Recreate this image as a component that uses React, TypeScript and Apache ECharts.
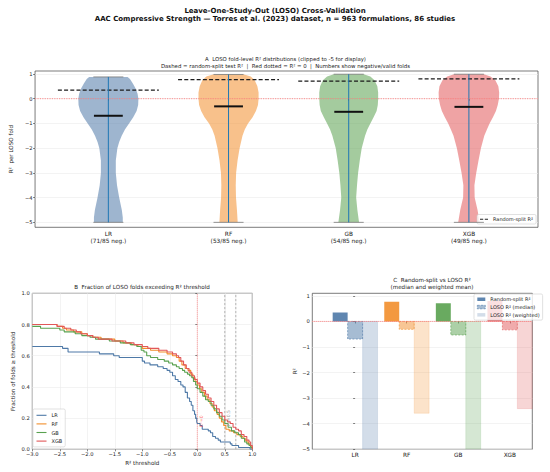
import React, { useEffect, useRef } from "react";
import * as echarts from "echarts";

// ---------------- data ----------------
const MODELS = ["LR", "RF", "GB", "XGB"];
const NEGATIVE_FOLDS = [71, 53, 54, 49];
const VALID_FOLDS = [85, 85, 85, 85];
const COLORS = ["#4e79a7", "#f28e2b", "#59a14f", "#e15759"];

const RANDOM_SPLIT_R2 = [0.35, 0.77, 0.71, 0.8];
const LOSO_MEDIAN_R2 = [-0.69, -0.31, -0.53, -0.33];
// LR and GB weighted means lie below -5 (clipped by the axis)
const LOSO_WEIGHTED_R2 = [-6.4, -3.59, -5.9, -3.41];
const FOLD_MAX = [0.88, 0.98, 0.99, 0.99];
const FOLD_MIN_CLIPPED = [-5, -5, -5, -5];

// violin outlines: [R², half-width of the density]
const VIOLIN_LR = [[0.88, 0.16], [0.8, 0.18], [0.6, 0.205], [0.4, 0.228], [0.2, 0.243], [0, 0.25], [-0.25, 0.248], [-0.5, 0.235], [-0.75, 0.207], [-1, 0.172], [-1.25, 0.138], [-1.5, 0.111], [-1.75, 0.09], [-2, 0.075], [-2.5, 0.062], [-3, 0.062], [-3.5, 0.072], [-4, 0.09], [-4.5, 0.112], [-4.8, 0.12], [-5, 0.12]];
const VIOLIN_RF = [[0.98, 0.13], [0.9, 0.185], [0.75, 0.218], [0.5, 0.24], [0.25, 0.25], [0, 0.25], [-0.25, 0.245], [-0.5, 0.228], [-0.75, 0.2], [-1, 0.162], [-1.25, 0.135], [-1.5, 0.116], [-2, 0.092], [-2.5, 0.075], [-3, 0.063], [-3.5, 0.06], [-4, 0.062], [-4.5, 0.07], [-5, 0.076]];
const VIOLIN_GB = [[0.99, 0.125], [0.9, 0.18], [0.75, 0.215], [0.5, 0.238], [0.25, 0.245], [0, 0.245], [-0.25, 0.242], [-0.5, 0.232], [-0.75, 0.207], [-1, 0.18], [-1.25, 0.155], [-1.5, 0.136], [-2, 0.108], [-2.5, 0.092], [-3, 0.078], [-3.5, 0.069], [-4, 0.062], [-4.5, 0.072], [-5, 0.086]];
const VIOLIN_XGB = [[0.99, 0.125], [0.9, 0.18], [0.75, 0.22], [0.5, 0.245], [0.25, 0.252], [0, 0.25], [-0.25, 0.24], [-0.5, 0.225], [-0.75, 0.2], [-1, 0.172], [-1.25, 0.15], [-1.5, 0.128], [-2, 0.1], [-2.5, 0.08], [-3, 0.061], [-3.5, 0.046], [-4, 0.048], [-4.5, 0.072], [-5, 0.089]];
const VIOLINS = [VIOLIN_LR, VIOLIN_RF, VIOLIN_GB, VIOLIN_XGB];

// fraction of folds with R² >= threshold: [threshold, fraction]
const SURV_LR = [[-3, 0.659], [-2.45, 0.647], [-2.35, 0.624], [-1.78, 0.612], [-1.52, 0.6], [-1.42, 0.588], [-1.0, 0.565], [-0.96, 0.553], [-0.86, 0.541], [-0.72, 0.529], [-0.62, 0.518], [-0.55, 0.506], [-0.5, 0.494], [-0.45, 0.471], [-0.4, 0.447], [-0.35, 0.435], [-0.3, 0.412], [-0.26, 0.4], [-0.22, 0.365], [-0.18, 0.329], [-0.14, 0.306], [-0.11, 0.282], [-0.08, 0.247], [-0.05, 0.224], [-0.03, 0.2], [-0.01, 0.176], [0.0, 0.165], [0.05, 0.153], [0.09, 0.129], [0.2, 0.118], [0.24, 0.106], [0.28, 0.082], [0.33, 0.071], [0.38, 0.059], [0.42, 0.047], [0.6, 0.035], [0.63, 0.024], [0.75, 0.012], [0.96, 0.0], [1.0, 0.0]];
const SURV_RF = [[-3, 0.8], [-2.55, 0.788], [-2.45, 0.776], [-2.38, 0.765], [-2.25, 0.753], [-2.1, 0.741], [-2.0, 0.729], [-1.9, 0.718], [-1.75, 0.706], [-1.5, 0.694], [-1.35, 0.682], [-1.2, 0.671], [-1.08, 0.659], [-1.0, 0.647], [-0.85, 0.635], [-0.7, 0.624], [-0.55, 0.612], [-0.45, 0.6], [-0.38, 0.588], [-0.33, 0.565], [-0.28, 0.541], [-0.22, 0.518], [-0.17, 0.506], [-0.12, 0.482], [-0.08, 0.459], [-0.04, 0.435], [0.0, 0.412], [0.04, 0.388], [0.08, 0.365], [0.13, 0.341], [0.18, 0.318], [0.23, 0.294], [0.27, 0.271], [0.31, 0.247], [0.36, 0.224], [0.4, 0.2], [0.44, 0.176], [0.48, 0.153], [0.52, 0.129], [0.58, 0.118], [0.66, 0.106], [0.72, 0.094], [0.78, 0.082], [0.83, 0.071], [0.87, 0.059], [0.9, 0.047], [0.93, 0.035], [0.96, 0.024], [0.98, 0.012], [1.0, 0.0]];
const SURV_GB = [[-3, 0.788], [-2.85, 0.776], [-2.5, 0.765], [-2.42, 0.753], [-2.22, 0.741], [-2.1, 0.729], [-1.95, 0.718], [-1.85, 0.706], [-1.6, 0.694], [-1.4, 0.682], [-1.22, 0.671], [-1.1, 0.659], [-1.02, 0.635], [-0.97, 0.624], [-0.92, 0.6], [-0.85, 0.588], [-0.72, 0.576], [-0.6, 0.565], [-0.52, 0.553], [-0.45, 0.541], [-0.38, 0.529], [-0.33, 0.518], [-0.27, 0.506], [-0.23, 0.494], [-0.18, 0.482], [-0.14, 0.471], [-0.1, 0.459], [-0.07, 0.435], [-0.03, 0.412], [0.0, 0.388], [0.05, 0.365], [0.1, 0.341], [0.15, 0.318], [0.2, 0.306], [0.25, 0.282], [0.3, 0.259], [0.35, 0.235], [0.4, 0.212], [0.45, 0.188], [0.5, 0.165], [0.56, 0.141], [0.62, 0.118], [0.68, 0.106], [0.75, 0.094], [0.8, 0.071], [0.86, 0.047], [0.9, 0.035], [0.94, 0.024], [0.97, 0.012], [1.0, 0.0]];
const SURV_XGB = [[-3, 0.8], [-2.55, 0.788], [-2.42, 0.776], [-2.3, 0.765], [-2.2, 0.753], [-2.12, 0.741], [-2.0, 0.729], [-1.9, 0.718], [-1.8, 0.706], [-1.55, 0.694], [-1.3, 0.682], [-1.15, 0.671], [-1.0, 0.659], [-0.9, 0.647], [-0.7, 0.635], [-0.55, 0.624], [-0.45, 0.612], [-0.38, 0.6], [-0.34, 0.588], [-0.3, 0.565], [-0.25, 0.541], [-0.2, 0.518], [-0.15, 0.494], [-0.1, 0.471], [-0.05, 0.447], [0.0, 0.424], [0.05, 0.4], [0.1, 0.376], [0.15, 0.353], [0.2, 0.329], [0.25, 0.306], [0.3, 0.282], [0.35, 0.259], [0.4, 0.235], [0.45, 0.212], [0.5, 0.188], [0.55, 0.176], [0.6, 0.165], [0.65, 0.141], [0.7, 0.129], [0.75, 0.118], [0.8, 0.094], [0.85, 0.082], [0.9, 0.059], [0.94, 0.047], [0.97, 0.024], [1.0, 0.0]];
const SURVIVAL = [SURV_LR, SURV_RF, SURV_GB, SURV_XGB];

const REF_THRESHOLDS = [0, 0.5, 0.7];
const REF_LABELS: [number, number, string][] = [[0.08, 0.18, "R²=0"], [0.56, 0.2, "R²=0.5"]];

// tick values
const A_X_TICKS = [1, 2, 3, 4];
const A_Y_TICKS = [-5, -4, -3, -2, -1, 0, 1];
const C_X_TICKS = [0, 1, 2, 3];
const C_Y_TICKS = [-5, -4, -3, -2, -1, 0, 1];

// ---------------- helpers ----------------
const FONT = "DejaVu Sans";
const MINUS = "\u2212";
const fmt = (v: number, d: number) => {
  const s = Math.abs(v).toFixed(d);
  return v < -1e-9 ? MINUS + s : s;
};
const rgba = (hex: string, a: number) => {
  const n = parseInt(hex.slice(1), 16);
  return `rgba(${n >> 16},${(n >> 8) & 255},${n & 255},${a})`;
};
const seg = (p: number[], q: number[], style: any) => ({
  type: "line",
  shape: { x1: p[0], y1: p[1], x2: q[0], y2: q[1] },
  style: { fill: null, ...style },
});

const TICK_FS = 5.2;
const axisTick = (custom?: number[]) => ({
  show: true,
  length: 2,
  lineStyle: { color: "#333", width: 0.6 },
  ...(custom ? { customValues: custom } : {}),
});
const splitLine = (show: boolean) => ({ show, lineStyle: { color: "#ebebeb", width: 0.6 } });
const nameStyle = { fontSize: 5.6, fontFamily: FONT, color: "#222" };
const LINE_ICON = "path://M0 0H10V1H0Z";

function buildOption(): any {
  const C_W = 0.29;
  const C_MIN = -5;

  const barSeries = (name: string, values: number[], offset: number, kind: number) => ({
    type: "custom",
    name,
    xAxisIndex: 2,
    yAxisIndex: 2,
    z: 3,
    clip: true,
    data: values.map((v, i) => [i, v]),
    renderItem: (params: any, api: any) => {
      const i = params.dataIndex;
      const x = api.value(0) + offset;
      const v = Math.max(api.value(1), C_MIN);
      const p = api.coord([x - C_W / 2, v]);
      const q = api.coord([x + C_W / 2, 0]);
      const c = COLORS[i];
      const style =
        kind === 0
          ? { fill: rgba(c, 0.9), stroke: null }
          : kind === 1
          ? { fill: rgba(c, 0.5), stroke: rgba(c, 0.85), lineWidth: 0.7, lineDash: [2, 1.4] }
          : { fill: rgba(c, 0.25), stroke: rgba(c, 0.3), lineWidth: 0.5 };
      return {
        type: "rect",
        shape: { x: p[0], y: Math.min(p[1], q[1]), width: q[0] - p[0], height: Math.abs(q[1] - p[1]) },
        style,
      };
    },
  });

  return {
    animation: false,
    backgroundColor: "#fff",
    textStyle: { fontFamily: FONT },
    title: [
      {
        text:
          "Leave-One-Study-Out (LOSO) Cross-Validation\nAAC Compressive Strength — Torres et al. (2023) dataset, n = 963 formulations, 86 studies",
        left: 275,
        top: 7,
        textAlign: "center",
        padding: 0,
        textStyle: { fontSize: 7, fontWeight: "bold", lineHeight: 8, fontFamily: FONT, color: "#111" },
      },
      {
        text:
          "A  LOSO fold-level R² distributions (clipped to -5 for display)\nDashed = random-split test R²  |  Red dotted = R² = 0  |  Numbers show negative/valid folds",
        left: 285.5,
        top: 55.5,
        textAlign: "center",
        padding: 0,
        textStyle: { fontSize: 5.4, fontWeight: "normal", lineHeight: 7, fontFamily: FONT, color: "#222" },
      },
      {
        text: "B  Fraction of LOSO folds exceeding R² threshold",
        left: 142,
        top: 283.2,
        textAlign: "center",
        padding: 0,
        textStyle: { fontSize: 5.6, fontWeight: "normal", lineHeight: 7, fontFamily: FONT, color: "#222" },
      },
      {
        text: "C  Random-split vs LOSO R²\n(median and weighted mean)",
        left: 432,
        top: 276.6,
        textAlign: "center",
        padding: 0,
        textStyle: { fontSize: 5.6, fontWeight: "normal", lineHeight: 6.7, fontFamily: FONT, color: "#222" },
      },
    ],
    grid: [
      { left: 33.3, top: 71, width: 504.7, height: 156.3, show: true, borderColor: "#444", borderWidth: 0.7, backgroundColor: "transparent" },
      { left: 32.3, top: 293.3, width: 220, height: 156, show: true, borderColor: "#444", borderWidth: 0.7, backgroundColor: "transparent" },
      { left: 312.3, top: 293.3, width: 220, height: 156, show: true, borderColor: "#444", borderWidth: 0.7, backgroundColor: "transparent" },
    ],
    xAxis: [
      {
        type: "value",
        gridIndex: 0,
        min: 0.39,
        max: 4.575,
        axisLine: { show: false },
        axisTick: axisTick(A_X_TICKS),
        splitLine: splitLine(false),
        axisLabel: {
          customValues: A_X_TICKS,
          fontSize: 5.8,
          lineHeight: 7,
          color: "#222",
          margin: 3,
          formatter: (v: number) => {
            const i = Math.round(v) - 1;
            return `${MODELS[i]}\n(${NEGATIVE_FOLDS[i]}/${VALID_FOLDS[i]} neg.)`;
          },
        },
      },
      {
        type: "value",
        gridIndex: 1,
        min: -3,
        max: 1,
        interval: 0.5,
        axisLine: { show: false },
        axisTick: axisTick(),
        splitLine: splitLine(true),
        axisLabel: { fontSize: TICK_FS, color: "#222", margin: 2.5, formatter: (v: number) => fmt(v, 1) },
        name: "R² threshold",
        nameLocation: "middle",
        nameGap: 11,
        nameTextStyle: nameStyle,
      },
      {
        type: "value",
        gridIndex: 2,
        min: -0.83,
        max: 3.435,
        axisLine: { show: false },
        axisTick: axisTick(C_X_TICKS),
        splitLine: splitLine(false),
        axisLabel: {
          customValues: C_X_TICKS,
          fontSize: 5.8,
          color: "#222",
          margin: 3,
          formatter: (v: number) => MODELS[Math.round(v)],
        },
      },
    ],
    yAxis: [
      {
        type: "value",
        gridIndex: 0,
        min: -5.2,
        max: 1.12,
        axisLine: { show: false },
        axisTick: axisTick(A_Y_TICKS),
        splitLine: splitLine(true),
        axisLabel: { customValues: A_Y_TICKS, fontSize: TICK_FS, color: "#222", margin: 2.5, formatter: (v: number) => fmt(v, 0) },
        name: "R²  per LOSO fold",
        nameLocation: "middle",
        nameGap: 16,
        nameRotate: 90,
        nameTextStyle: nameStyle,
      },
      {
        type: "value",
        gridIndex: 1,
        min: 0,
        max: 1,
        interval: 0.2,
        axisLine: { show: false },
        axisTick: axisTick(),
        splitLine: splitLine(true),
        axisLabel: { fontSize: TICK_FS, color: "#222", margin: 2.5, formatter: (v: number) => fmt(v, 1) },
        name: "Fraction of folds ≥ threshold",
        nameLocation: "middle",
        nameGap: 16,
        nameRotate: 90,
        nameTextStyle: nameStyle,
      },
      {
        type: "value",
        gridIndex: 2,
        min: -5,
        max: 1.1,
        axisLine: { show: false },
        axisTick: axisTick(C_Y_TICKS),
        splitLine: splitLine(true),
        axisLabel: { customValues: C_Y_TICKS, fontSize: TICK_FS, color: "#222", margin: 2.5, formatter: (v: number) => fmt(v, 0) },
        name: "R²",
        nameLocation: "middle",
        nameGap: 9,
        nameRotate: 90,
        nameTextStyle: nameStyle,
      },
    ],
    legend: [
      {
        left: 477,
        top: 214.5,
        orient: "vertical",
        padding: [2, 3, 2, 3],
        itemWidth: 8,
        itemHeight: 1,
        symbolKeepAspect: false,
        selectedMode: false,
        borderColor: "#ccc",
        borderWidth: 0.6,
        borderRadius: 1.5,
        backgroundColor: "rgba(255,255,255,0.8)",
        textStyle: { fontSize: 5, lineHeight: 5.5, color: "#222", fontFamily: FONT },
        data: [{ name: "Random-split R²", icon: "path://M0 0H4V1H0Z M6 0H10V1H6Z", itemStyle: { color: "#222" } }],
      },
      {
        left: 33,
        top: 409,
        orient: "vertical",
        padding: [3.5, 3, 3, 3.5],
        itemWidth: 10,
        itemHeight: 1.1,
        itemGap: 3,
        symbolKeepAspect: false,
        selectedMode: false,
        borderColor: "#ccc",
        borderWidth: 0.6,
        borderRadius: 1.5,
        backgroundColor: "rgba(255,255,255,0.8)",
        textStyle: { fontSize: 5, lineHeight: 5.6, color: "#222", fontFamily: FONT },
        data: MODELS.map((m, i) => ({ name: m, icon: LINE_ICON, itemStyle: { color: COLORS[i], borderWidth: 0 } })),
      },
      {
        left: 474,
        top: 294,
        orient: "vertical",
        padding: [2.5, 3, 2.5, 3],
        itemWidth: 8,
        itemHeight: 3.5,
        itemGap: 2.3,
        selectedMode: false,
        borderColor: "#ccc",
        borderWidth: 0.6,
        borderRadius: 1.5,
        backgroundColor: "rgba(255,255,255,0.8)",
        textStyle: { fontSize: 5, lineHeight: 5.5, color: "#222", fontFamily: FONT },
        data: [
          { name: "Random-split R²", icon: "rect", itemStyle: { color: rgba(COLORS[0], 0.9), borderWidth: 0 } },
          { name: "LOSO R² (median)", icon: "rect", itemStyle: { color: rgba(COLORS[0], 0.5), borderColor: COLORS[0], borderWidth: 0.6, borderType: "dashed" } },
          { name: "LOSO R² (weighted)", icon: "rect", itemStyle: { color: rgba(COLORS[0], 0.25), borderWidth: 0 } },
        ],
      },
    ],
    series: [
      // ---- panel A: violin bodies
      {
        type: "custom",
        name: "violins",
        xAxisIndex: 0,
        yAxisIndex: 0,
        z: 2,
        data: MODELS.map((_, i) => [i + 1, FOLD_MAX[i]]),
        renderItem: (params: any, api: any) => {
          const i = params.dataIndex;
          const x = api.value(0);
          const prof = VIOLINS[i];
          const pts: number[][] = [];
          prof.forEach(([y, w]) => pts.push(api.coord([x + w, y])));
          for (let k = prof.length - 1; k >= 0; k--) pts.push(api.coord([x - prof[k][1], prof[k][0]]));
          return { type: "polygon", shape: { points: pts }, style: { fill: rgba(COLORS[i], 0.55), stroke: null } };
        },
      },
      // ---- panel A: random-split dashed lines
      {
        type: "custom",
        name: "Random-split R²",
        xAxisIndex: 0,
        yAxisIndex: 0,
        z: 3,
        color: "#222",
        data: MODELS.map((_, i) => [i + 1, RANDOM_SPLIT_R2[i]]),
        renderItem: (params: any, api: any) => {
          const x = api.value(0);
          const y = api.value(1);
          return seg(api.coord([x - 0.42, y]), api.coord([x + 0.42, y]), {
            stroke: "#1a1a1a",
            lineWidth: 1.2,
            lineDash: [4, 2.2],
          });
        },
      },
      // ---- panel A: range bar, caps and medians
      {
        type: "custom",
        name: "violin-stats",
        xAxisIndex: 0,
        yAxisIndex: 0,
        z: 4,
        data: MODELS.map((_, i) => [i + 1, LOSO_MEDIAN_R2[i]]),
        renderItem: (params: any, api: any) => {
          const i = params.dataIndex;
          const x = api.value(0);
          const med = api.value(1);
          const hi = FOLD_MAX[i];
          const lo = FOLD_MIN_CLIPPED[i];
          return {
            type: "group",
            children: [
              seg(api.coord([x - 0.125, hi]), api.coord([x + 0.125, hi]), { stroke: "#777", lineWidth: 0.8 }),
              seg(api.coord([x - 0.125, lo]), api.coord([x + 0.125, lo]), { stroke: "#777", lineWidth: 0.8 }),
              seg(api.coord([x, hi]), api.coord([x, lo]), { stroke: "#1f77b4", lineWidth: 1 }),
              seg(api.coord([x - 0.12, med]), api.coord([x + 0.12, med]), { stroke: "#111", lineWidth: 2 }),
            ],
          };
        },
      },
      // ---- panel A: R² = 0 reference
      {
        type: "custom",
        name: "zeroA",
        xAxisIndex: 0,
        yAxisIndex: 0,
        z: 5,
        data: [[0.39, 0]],
        renderItem: (params: any, api: any) =>
          seg(api.coord([0.39, 0]), api.coord([4.575, 0]), { stroke: "#ff8080", lineWidth: 0.9, lineDash: [1.2, 1.2] }),
      },
      // ---- panel B: reference thresholds
      {
        type: "custom",
        name: "refB",
        xAxisIndex: 1,
        yAxisIndex: 1,
        z: 1,
        data: REF_THRESHOLDS.map((t) => [t, 0]),
        renderItem: (params: any, api: any) => {
          const t = api.value(0);
          const red = params.dataIndex === 0;
          return seg(api.coord([t, 0]), api.coord([t, 1]), {
            stroke: red ? "#ff7070" : "#b0b0b0",
            lineWidth: red ? 0.8 : 1,
            lineDash: red ? [1, 1] : [2.5, 1.5],
          });
        },
      },
      ...SURVIVAL.map((d, i) => ({
        type: "line",
        name: MODELS[i],
        xAxisIndex: 1,
        yAxisIndex: 1,
        step: "end",
        symbol: "none",
        color: COLORS[i],
        lineStyle: { width: 1.1, color: COLORS[i] },
        z: 2 + i,
        data: d,
      })),
      {
        type: "custom",
        name: "refLabelsB",
        xAxisIndex: 1,
        yAxisIndex: 1,
        z: 8,
        data: REF_LABELS.map((l) => [l[0], l[1]]),
        renderItem: (params: any, api: any) => {
          const p = api.coord([api.value(0), api.value(1)]);
          const red = params.dataIndex === 0;
          return {
            type: "text",
            x: p[0],
            y: p[1],
            rotation: Math.PI / 2,
            style: {
              text: REF_LABELS[params.dataIndex][2],
              fill: red ? "rgba(255,0,0,0.6)" : "#a0a0a0",
              fontSize: 4.6,
              fontFamily: FONT,
              align: "center",
              verticalAlign: "middle",
            },
          };
        },
      },
      // ---- panel C: bars
      barSeries("Random-split R²", RANDOM_SPLIT_R2, -C_W, 0),
      barSeries("LOSO R² (median)", LOSO_MEDIAN_R2, 0, 1),
      barSeries("LOSO R² (weighted)", LOSO_WEIGHTED_R2, C_W, 2),
      {
        type: "custom",
        name: "zeroC",
        xAxisIndex: 2,
        yAxisIndex: 2,
        z: 6,
        data: [[0, 0]],
        renderItem: (params: any, api: any) =>
          seg(api.coord([-0.83, 0]), api.coord([3.435, 0]), { stroke: "#ff6060", lineWidth: 0.8, lineDash: [1, 1] }),
      },
    ],
  };
}

export default function App() {
  const ref = useRef<HTMLDivElement>(null);
  useEffect(() => {
    if (!ref.current) return;
    const chart = echarts.init(ref.current, null, { renderer: "svg" });
    chart.setOption(buildOption());
    return () => chart.dispose();
  }, []);
  return (
    <div
      ref={ref}
      style={{ position: "fixed", left: 0, top: 0, width: 550, height: 472, background: "#fff" }}
    />
  );
}
